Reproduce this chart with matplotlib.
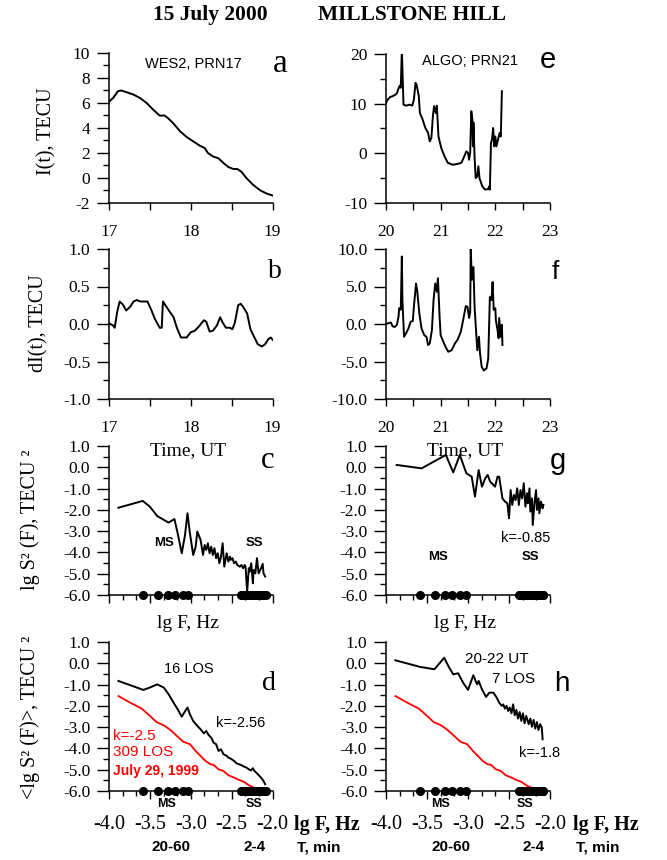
import matplotlib
matplotlib.use("Agg")
import matplotlib.pyplot as plt
from matplotlib.ticker import MultipleLocator, AutoMinorLocator, FormatStrFormatter

SERIF = "Liberation Serif"
SANS = "Liberation Sans"
W, H = 667, 860

plt.rcParams["font.family"] = SERIF
plt.rcParams["axes.unicode_minus"] = False

# --- panel a: I(t), WES2 PRN17
T_A = [17.0, 17.05, 17.11, 17.15, 17.22, 17.30, 17.38, 17.46, 17.54, 17.62, 17.68, 17.72,
       17.79, 17.87, 17.95, 18.03, 18.11, 18.17, 18.21, 18.27, 18.34, 18.40, 18.46, 18.52,
       18.57, 18.62, 18.68, 18.76, 18.85, 18.93, 19.0]
I_A = [6.1, 6.4, 6.95, 7.0, 6.85, 6.67, 6.4, 6.0, 5.47, 4.99, 5.0, 4.8,
       4.35, 3.73, 3.28, 2.93, 2.59, 2.4, 2.0, 1.73, 1.57, 1.2, 0.88, 0.72,
       0.72, 0.5, 0.0, -0.53, -0.99, -1.25, -1.4]

# --- panel b: dI(t), WES2 PRN17
T_B = [17.0, 17.05, 17.07, 17.10, 17.13, 17.17, 17.21, 17.26, 17.30, 17.34, 17.38, 17.42,
       17.47, 17.52, 17.56, 17.62, 17.645, 17.66, 17.72, 17.79, 17.83, 17.88, 17.95, 18.0,
       18.05, 18.11, 18.16, 18.19, 18.23, 18.27, 18.32, 18.36, 18.39, 18.43, 18.48, 18.51,
       18.54, 18.58, 18.61, 18.64, 18.69, 18.73, 18.77, 18.82, 18.87, 18.91, 18.95, 18.98, 19.0]
DI_B = [0.01, -0.02, -0.05, 0.16, 0.30, 0.26, 0.18, 0.23, 0.30, 0.32, 0.30, 0.30,
        0.30, 0.18, 0.07, -0.05, -0.05, 0.30, 0.20, 0.09, -0.05, -0.18, -0.18, -0.11,
        -0.09, -0.02, 0.05, 0.03, -0.10, -0.09, -0.02, 0.09, 0.02, -0.05, -0.05, -0.07,
        0.02, 0.25, 0.27, 0.23, 0.14, -0.07, -0.16, -0.27, -0.30, -0.27, -0.20, -0.18, -0.21]

# --- panel e: I(t), ALGO PRN21
T_E = [20.0, 20.03, 20.07, 20.12, 20.17, 20.20, 20.22, 20.25, 20.27, 20.29, 20.31, 20.32,
       20.37, 20.43, 20.48, 20.51, 20.54, 20.56, 20.60, 20.62, 20.67, 20.72, 20.77, 20.80,
       20.83, 20.86, 20.88, 20.91, 20.93, 20.96, 21.01, 21.07, 21.13, 21.22, 21.32, 21.38,
       21.42, 21.47, 21.50, 21.52, 21.54, 21.56, 21.58, 21.59, 21.60, 21.62, 21.64, 21.67,
       21.69, 21.71, 21.76, 21.81, 21.87, 21.89, 21.90, 21.92, 21.94, 21.96, 21.98, 22.00,
       22.02, 22.05, 22.08, 22.10, 22.12]
I_E = [10.1, 10.8, 11.3, 11.5, 11.8, 12.1, 12.8, 13.6, 13.2, 20.7, 13.5, 9.8,
       9.6, 9.8, 9.6, 10.8, 14.2, 13.8, 11.5, 8.1, 6.8, 5.1, 4.1, 2.4,
       3.1, 7.8, 9.5, 8.1, 9.6, 3.4, 1.1, -0.6, -1.9, -2.3, -2.1, -1.9,
       -0.9, 0.4, 0.1, -1.3, 0.1, 8.5, 6.8, 1.4, 6.2, -0.6, -5.0, -4.6,
       -2.6, -5.0, -6.6, -7.3, -7.2, -6.6, -7.3, 2.1, 2.8, 5.1, 1.4, 3.4,
       1.4, 2.8, 4.1, 3.4, 12.5]

# --- panel f: dI(t), ALGO PRN21
T_F = [20.0, 20.04, 20.09, 20.12, 20.16, 20.20, 20.23, 20.24, 20.27, 20.29, 20.30, 20.33,
       20.37, 20.41, 20.45, 20.49, 20.51, 20.55, 20.57, 20.61, 20.65, 20.70, 20.74, 20.77,
       20.80, 20.84, 20.87, 20.90, 20.93, 20.95, 20.98, 21.0, 21.05, 21.10, 21.14, 21.20,
       21.26, 21.31, 21.37, 21.41, 21.46, 21.49, 21.52, 21.54, 21.55, 21.57, 21.60, 21.62,
       21.65, 21.67, 21.70, 21.72, 21.75, 21.79, 21.84, 21.87, 21.90, 21.93, 21.95, 21.97,
       22.0, 22.01, 22.04, 22.06, 22.07, 22.10, 22.12, 22.13]
DI_F = [0.0, 0.1, 0.2, -0.3, -0.4, -0.1, 1.0, 2.1, 1.9, 9.0, 3.2, -1.7,
        -1.2, -0.6, 0.3, 0.4, 2.3, 5.4, 4.5, 1.4, -0.6, -1.5, -1.7, -2.8,
        -2.6, -0.8, 3.2, 5.4, 4.3, 6.1, 1.0, -1.5, -2.4, -3.2, -3.7, -3.5,
        -2.6, -2.1, -1.0, 0.5, 2.4, 2.3, 0.8, 1.6, 10.1, 5.9, 7.6, 2.3,
        -1.2, -3.5, -1.7, -3.9, -5.7, -6.2, -5.9, -4.6, 3.6, 3.2, 5.6, 1.9,
        2.1, 0.5, -0.8, -1.9, 0.8, -1.7, -0.1, -2.8]

# --- panel c: spectrum WES2
LGF_C = [-3.885, -3.587, -3.50, -3.41, -3.33, -3.27, -3.20, -3.16, -3.11, -3.07, -3.04, -3.01,
         -2.97, -2.94, -2.92, -2.88, -2.85, -2.83, -2.81, -2.79, -2.77, -2.75, -2.73, -2.71,
         -2.69, -2.67, -2.65, -2.63, -2.61, -2.59, -2.56, -2.54, -2.52, -2.51, -2.49, -2.47,
         -2.45, -2.43, -2.40, -2.38, -2.36, -2.34, -2.33, -2.31, -2.29, -2.28, -2.26, -2.24,
         -2.23, -2.21, -2.19, -2.17, -2.16, -2.14, -2.12, -2.11, -2.09]
S_C = [-1.90, -1.58, -1.85, -2.29, -2.47, -2.60, -2.43, -3.10, -4.04, -3.18, -2.16, -3.10,
       -4.12, -3.73, -3.02, -3.41, -4.12, -3.65, -3.88, -3.57, -4.04, -3.73, -4.12, -3.80,
       -4.27, -4.04, -4.51, -4.20, -3.57, -4.67, -4.04, -4.43, -4.20, -4.35, -4.27, -4.51,
       -4.43, -4.59, -4.67, -4.59, -4.74, -4.59, -4.67, -5.85, -4.74, -4.90, -4.51, -5.45,
       -4.82, -4.98, -4.27, -4.98, -4.90, -4.74, -4.54, -4.98, -5.13]

# --- panel g: spectrum ALGO
LGF_G = [-3.87, -3.565, -3.27, -3.18, -3.10, -3.02, -2.955, -2.915, -2.87, -2.83, -2.79, -2.76,
         -2.73, -2.67, -2.64, -2.62, -2.58, -2.55, -2.52, -2.50, -2.48, -2.46, -2.44, -2.42,
         -2.40, -2.38, -2.36, -2.34, -2.32, -2.30, -2.28, -2.27, -2.25, -2.24, -2.22, -2.21,
         -2.19, -2.17, -2.16, -2.14, -2.13, -2.11, -2.09, -2.08]
S_G = [0.11, -0.05, 0.58, -0.24, 0.58, -0.28, -0.44, -1.38, -0.13, -0.91, -0.52, -0.36,
       -0.67, -0.91, -0.44, -0.44, -1.46, -1.61, -1.69, -2.40, -1.07, -1.77, -1.30, -1.54,
       -0.99, -1.77, -1.07, -1.46, -0.75, -1.85, -1.22, -1.69, -0.99, -2.08, -1.46, -2.71,
       -1.69, -1.07, -2.00, -1.46, -2.16, -1.61, -1.93, -1.77]

# --- panel d: mean spectrum, 16 LOS
LGF_D = [-3.885, -3.58, -3.50, -3.41, -3.33, -3.27, -3.21, -3.16, -3.11, -3.08, -3.04, -3.01,
         -2.97, -2.92, -2.88, -2.84, -2.81, -2.78, -2.75, -2.72, -2.69, -2.66, -2.63, -2.60,
         -2.56, -2.54, -2.51, -2.47, -2.44, -2.41, -2.38, -2.35, -2.32, -2.29, -2.26, -2.24,
         -2.22, -2.19, -2.16, -2.13, -2.11, -2.09]
S_D = [-0.83, -1.25, -1.14, -0.99, -1.14, -1.46, -1.85, -2.16, -2.51, -2.32, -2.08, -2.40,
       -2.71, -2.94, -3.10, -3.29, -3.18, -3.38, -3.49, -3.73, -3.80, -4.12, -4.04, -4.27,
       -4.35, -4.43, -4.48, -4.59, -4.70, -4.74, -4.79, -4.85, -4.90, -4.98, -5.03, -4.93,
       -5.06, -5.17, -5.29, -5.42, -5.53, -5.68]

# --- panel h: mean spectrum, 20-22 UT, 7 LOS
LGF_H = [-3.886, -3.585, -3.41, -3.29, -3.24, -3.18, -3.12, -3.06, -3.0, -2.935, -2.89, -2.87,
         -2.83, -2.78, -2.74, -2.69, -2.65, -2.62, -2.59, -2.57, -2.55, -2.53, -2.51, -2.49,
         -2.47, -2.45, -2.43, -2.41, -2.39, -2.37, -2.35, -2.33, -2.31, -2.29, -2.26, -2.24,
         -2.22, -2.20, -2.18, -2.16, -2.14, -2.12, -2.10, -2.09]
S_H = [0.14, -0.17, -0.28, 0.26, -0.13, -0.52, -0.47, -0.91, -1.25, -0.56, -0.99, -0.83,
       -1.22, -1.58, -1.38, -1.38, -1.61, -1.85, -2.00, -1.93, -2.13, -2.00, -2.24, -2.08,
       -2.35, -1.93, -2.44, -2.19, -2.60, -2.29, -2.71, -2.35, -2.82, -2.47, -2.86, -2.60,
       -2.98, -2.66, -3.07, -2.76, -3.13, -2.86, -3.02, -3.57]

# --- reference spectrum, July 29 1999, 309 LOS (red, in d and h)
LGF_RED = [-3.885, -3.74, -3.60, -3.50, -3.42, -3.33, -3.25, -3.17, -3.09, -3.01, -2.94, -2.88,
           -2.82, -2.76, -2.72, -2.66, -2.60, -2.54, -2.47, -2.41, -2.35, -2.29, -2.23, -2.19]
S_RED = [-1.54, -1.85, -2.13, -2.47, -2.76, -2.91, -3.13, -3.41, -3.69, -3.80, -4.12, -4.35,
         -4.59, -4.74, -4.77, -4.98, -5.06, -5.26, -5.37, -5.48, -5.57, -5.73, -5.84, -5.87]

# harmonic markers on the frequency axis
MS_LGF = [-3.58, -3.40, -3.28, -3.19, -3.10, -3.03]
SS_LGF = [-2.38, -2.37, -2.36, -2.35, -2.34, -2.33, -2.32, -2.31, -2.30, -2.29, -2.28,
          -2.27, -2.26, -2.25, -2.24, -2.23, -2.22, -2.21, -2.20, -2.19, -2.18, -2.17,
          -2.16, -2.15, -2.14, -2.13, -2.12, -2.11, -2.10, -2.09, -2.08]
MARK_LEVEL = -6.0

TIME_TICKS_L = [17, 17.5, 18, 18.5, 19]
TIME_LABELS_L = ["17", "", "18", "", "19"]
TIME_TICKS_R = [20, 20.5, 21, 21.5, 22, 22.5, 23]
TIME_LABELS_R = ["20", "", "21", "", "22", "", "23"]
LGF_TICKS = [-4.0, -3.5, -3.0, -2.5, -2.0]
LGF_LABELS = ["-4.0", "-3.5", "-3.0", "-2.5", "-2.0"]


def PanelAxes(fig, left, top, right, bottom):
    ax = fig.add_axes([left / W, 1 - bottom / H, (right - left) / W, (bottom - top) / H])
    ax.spines["top"].set_visible(False)
    ax.spines["right"].set_visible(False)
    ax.spines["left"].set_linewidth(1.1)
    ax.spines["bottom"].set_linewidth(1.1)
    ax.patch.set_visible(False)
    return ax


def SetY(ax, ylim, major, minor, fmt):
    ax.set_ylim(ylim)
    ax.yaxis.set_major_locator(MultipleLocator(major))
    ax.yaxis.set_minor_locator(MultipleLocator(minor))
    ax.yaxis.set_major_formatter(FormatStrFormatter(fmt))
    ax.tick_params(axis="y", which="major", direction="out", length=8.5, width=1, labelsize=12.5, pad=5)
    ax.tick_params(axis="y", which="minor", direction="out", length=4.3, width=1)


def SetTimeX(ax, ticks, labels):
    ax.set_xlim(ticks[0], ticks[-1])
    ax.set_xticks(ticks)
    ax.set_xticklabels(labels)
    ax.tick_params(axis="x", direction="out", length=5, width=1, labelsize=12.5, pad=10)


def SetFreqX(ax, with_labels):
    ax.set_xlim(LGF_TICKS[0], LGF_TICKS[-1])
    ax.set_xticks(LGF_TICKS)
    ax.set_xticklabels(LGF_LABELS if with_labels else [])
    ax.xaxis.set_minor_locator(AutoMinorLocator(3))
    ax.tick_params(axis="x", which="major", direction="out", length=6, width=1, labelsize=14.5, pad=11)
    ax.tick_params(axis="x", which="minor", direction="out", length=3.5, width=1)


def Marks(ax):
    ax.plot(MS_LGF, [MARK_LEVEL] * len(MS_LGF), "o", color="black", ms=5.5, clip_on=False, zorder=5)
    ax.plot(SS_LGF, [MARK_LEVEL] * len(SS_LGF), "o", color="black", ms=5.5, clip_on=False, zorder=5)


def Txt(fig, x, y, s, size, family=SANS, weight="normal", color="black", ha="center", rotation=0):
    fig.text(x / W, 1 - y / H, s, fontsize=size, family=family, weight=weight, color=color,
             ha=ha, va="center", rotation=rotation)


def Main():
    fig = plt.figure(figsize=(W / 100, H / 100), dpi=100)
    line_kw = dict(color="black", lw=1.4)

    # row 1
    ax = PanelAxes(fig, 109, 53, 272.5, 203)
    ax.plot(T_A, I_A, **line_kw)
    SetY(ax, (-2, 10), 2, 1, "%d")
    SetTimeX(ax, TIME_TICKS_L, TIME_LABELS_L)

    ax = PanelAxes(fig, 386, 54, 550, 203)
    ax.plot(T_E, I_E, **line_kw)
    SetY(ax, (-10, 20), 10, 5, "%d")
    SetTimeX(ax, TIME_TICKS_R, TIME_LABELS_R)

    # row 2
    ax = PanelAxes(fig, 109, 249, 272.5, 399)
    ax.plot(T_B, DI_B, **line_kw)
    SetY(ax, (-1, 1), 0.5, 0.25, "%.1f")
    SetTimeX(ax, TIME_TICKS_L, TIME_LABELS_L)

    ax = PanelAxes(fig, 386, 249, 550, 399)
    ax.plot(T_F, DI_F, **line_kw)
    SetY(ax, (-10, 10), 5, 2.5, "%.1f")
    SetTimeX(ax, TIME_TICKS_R, TIME_LABELS_R)

    # row 3
    ax = PanelAxes(fig, 109, 446, 272.5, 595)
    ax.plot(LGF_C, S_C, **line_kw)
    Marks(ax)
    SetY(ax, (-6, 1), 1, 0.5, "%.1f")
    SetFreqX(ax, False)

    ax = PanelAxes(fig, 386, 446, 550, 595)
    ax.plot(LGF_G, S_G, **line_kw)
    Marks(ax)
    SetY(ax, (-6, 1), 1, 0.5, "%.1f")
    SetFreqX(ax, False)

    # row 4
    ax = PanelAxes(fig, 109, 642, 272.5, 791)
    ax.plot(LGF_RED, S_RED, color="red", lw=1.3)
    ax.plot(LGF_D, S_D, **line_kw)
    Marks(ax)
    SetY(ax, (-6, 1), 1, 0.5, "%.1f")
    SetFreqX(ax, True)

    ax = PanelAxes(fig, 386, 642, 550, 791)
    ax.plot(LGF_RED, S_RED, color="red", lw=1.3)
    ax.plot(LGF_H, S_H, **line_kw)
    Marks(ax)
    SetY(ax, (-6, 1), 1, 0.5, "%.1f")
    SetFreqX(ax, True)

    # title
    Txt(fig, 210, 15, "15 July 2000", 15.5, SERIF, "bold")
    Txt(fig, 412, 15, "MILLSTONE HILL", 15.5, SERIF, "bold")

    # y labels
    Txt(fig, 47, 131, "I(t), TECU", 14.5, SERIF, rotation=90)
    Txt(fig, 39, 323, "dI(t), TECU", 14.5, SERIF, rotation=90)
    Txt(fig, 30, 520, "lg S² (F), TECU ²", 14.5, SERIF, rotation=90)
    Txt(fig, 30, 717, "<lg S² (F)>, TECU ²", 14.5, SERIF, rotation=90)

    # panel letters
    Txt(fig, 280, 64, "a", 24, SERIF)
    Txt(fig, 275, 272, "b", 20, SERIF)
    Txt(fig, 268, 461, "c", 22, SERIF)
    Txt(fig, 269, 684, "d", 20, SERIF)
    Txt(fig, 548, 60, "e", 21)
    Txt(fig, 555, 272, "f", 19)
    Txt(fig, 558, 461, "g", 21)
    Txt(fig, 562, 684, "h", 20)

    # annotations
    Txt(fig, 193, 64, "WES2, PRN17", 10.5)
    Txt(fig, 470, 61, "ALGO; PRN21", 10.5)
    Txt(fig, 188, 451, "Time, UT", 14, SERIF)
    Txt(fig, 465, 451, "Time, UT", 14, SERIF)
    Txt(fig, 188, 623, "lg F, Hz", 14, SERIF)
    Txt(fig, 465, 623, "lg F, Hz", 14, SERIF)

    Txt(fig, 164, 543, "MS", 9.5, weight="bold")
    Txt(fig, 254, 543, "SS", 9.5, weight="bold")
    Txt(fig, 526, 538, "k=-0.85", 10.5)
    Txt(fig, 438, 557, "MS", 9.5, weight="bold")
    Txt(fig, 530, 557, "SS", 9.5, weight="bold")

    Txt(fig, 189, 669, "16 LOS", 10.5)
    Txt(fig, 241, 723, "k=-2.56", 10.5)
    Txt(fig, 113, 736, "k=-2.5", 11, color="red", ha="left")
    Txt(fig, 113, 752, "309 LOS", 11, color="red", ha="left")
    Txt(fig, 113, 771, "July 29, 1999", 10, weight="bold", color="red", ha="left")
    Txt(fig, 497, 659, "20-22 UT", 11)
    Txt(fig, 514, 679, "7 LOS", 11)
    Txt(fig, 540, 753, "k=-1.8", 10.5)

    Txt(fig, 167, 804, "MS", 9, weight="bold")
    Txt(fig, 254, 804, "SS", 9, weight="bold")
    Txt(fig, 441, 804, "MS", 9, weight="bold")
    Txt(fig, 525, 804, "SS", 9, weight="bold")

    # bottom axis titles
    Txt(fig, 294, 825, "lg F, Hz", 14.5, SERIF, "bold", ha="left")
    Txt(fig, 573, 825, "lg F, Hz", 14.5, SERIF, "bold", ha="left")
    Txt(fig, 171, 847, "20-60", 11, weight="bold")
    Txt(fig, 255, 847, "2-4", 11, weight="bold")
    Txt(fig, 297, 847, "T, min", 11, weight="bold", ha="left")
    Txt(fig, 451, 847, "20-60", 11, weight="bold")
    Txt(fig, 534, 847, "2-4", 11, weight="bold")
    Txt(fig, 576, 847, "T, min", 11, weight="bold", ha="left")

    fig.savefig("out.png", dpi=100)
    plt.close(fig)


if __name__ == "__main__":
    Main()
